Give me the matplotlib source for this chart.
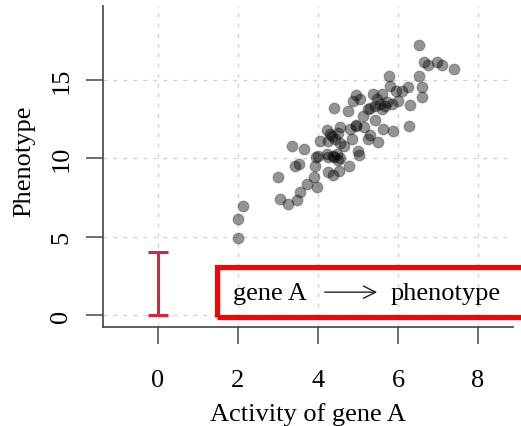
import numpy as np
import matplotlib
matplotlib.use("Agg")
import matplotlib.pyplot as plt

plt.rcParams['font.family'] = ['Liberation Serif', 'DejaVu Serif']

# activity of gene A vs phenotype
activity = [6.53, 6.66, 6.76, 6.98, 7.09, 7.40, 5.78, 6.53, 6.61, 6.60,
            6.30, 6.28, 6.25, 6.09, 5.95, 5.80, 5.60, 5.37, 5.55, 5.68,
            5.43, 5.30, 5.84, 6.00, 4.95, 5.05, 4.88, 4.40, 4.76, 5.12,
            5.43, 4.94, 4.55, 5.16, 5.63, 5.87, 5.30, 5.26, 5.51, 4.22,
            4.34, 4.05, 4.26, 4.43, 4.66, 4.84, 4.55, 5.01, 5.03, 3.34,
            3.66, 3.94, 4.22, 4.38, 4.48, 4.26, 4.55, 3.43, 3.53, 3.93,
            4.24, 4.38, 4.53, 4.78, 2.99, 3.91, 3.72, 3.97, 3.55, 3.05,
            3.24, 3.47, 2.12, 2.01, 2.01, 5.47, 5.72, 5.60, 5.25, 4.96,
            4.80, 4.30, 4.50, 3.99, 4.40, 4.50]
phenotype = [17.2, 16.15, 15.9, 16.15, 15.9, 15.65, 15.2, 15.25, 14.5, 13.9,
             13.4, 12.05, 14.5, 14.3, 14.3, 14.6, 14.1, 14.1, 13.45, 13.35,
             13.35, 13.2, 13.45, 13.65, 14.0, 13.75, 13.65, 13.2, 13.0, 12.7,
             12.4, 12.05, 12.0, 11.95, 11.85, 11.75, 11.45, 11.2, 11.05, 11.8,
             11.4, 11.1, 11.1, 11.2, 10.75, 11.2, 10.95, 10.45, 10.2, 10.8,
             10.6, 10.05, 10.25, 10.15, 10.25, 10.1, 10.0, 9.5, 9.65, 9.5,
             9.1, 8.9, 9.2, 9.5, 8.8, 8.8, 8.35, 8.15, 7.85, 7.4,
             7.05, 7.35, 6.95, 6.15, 4.9, 13.75, 13.55, 13.15, 13.15, 12.1,
             11.85, 11.55, 11.6, 10.15, 10.05, 9.9]

bar_x = 0
bar_lo, bar_hi = 0, 4

xticks = [0, 2, 4, 6, 8]
yticks = [0, 5, 10, 15]

fig = plt.figure(figsize=(5.21, 4.27), dpi=100)
ax = fig.add_axes([103/521, 1 - 328/427, 410/521, 321/427])

ax.set_xlim(-1.375, 8.875)
ax.set_ylim(-0.76, 19.69)

for x in xticks:
    ax.axvline(x, color='#cfcfcf', lw=0.9, ls=(0, (3, 5)), zorder=0)
for y in yticks:
    ax.axhline(y, color='#cfcfcf', lw=0.9, ls=(0, (3, 5)), zorder=0)

ax.scatter(activity, phenotype, s=62, facecolor=(0, 0, 0, 0.42),
           edgecolor=(0, 0, 0, 0.25), linewidth=0.8, zorder=3)

# bar from 0 to 4 at x = 0
ax.errorbar([bar_x], [(bar_lo + bar_hi) / 2], yerr=[(bar_hi - bar_lo) / 2],
            fmt='none', ecolor='#d8243c', elinewidth=2.2, capsize=7,
            capthick=2.2, zorder=4)

# boxed label
box = plt.Rectangle((1.475, -0.13), 8.0, 3.19, fill=False, edgecolor='#ff0000',
                    linewidth=3.8, clip_on=False, zorder=5)
ax.add_patch(box)
ax.text(1.875, 1.4, "gene A", fontsize=19, va='center', ha='left', zorder=6)
ax.annotate("", xy=(5.55, 1.46), xytext=(4.1, 1.46),
            arrowprops=dict(arrowstyle='->', color='#222222', lw=1.0,
                            mutation_scale=22), zorder=6)
ax.text(5.82, 1.4, "phenotype", fontsize=19, va='center', ha='left', zorder=6)

ax.set_xticks(xticks)
ax.set_yticks(yticks)
ax.set_yticklabels([str(v) for v in yticks], rotation=90, va='center')
ax.tick_params(axis='both', direction='out', length=12, width=1.2,
               color='#555555', labelsize=19)
ax.tick_params(axis='x', pad=18)
ax.tick_params(axis='y', pad=10)

for side in ['top', 'right']:
    ax.spines[side].set_visible(False)
for side in ['left', 'bottom']:
    ax.spines[side].set_color('#444444')
    ax.spines[side].set_linewidth(1.2)

ax.set_xlabel("Activity of gene A", fontsize=19, labelpad=8)
ax.set_ylabel("Phenotype", fontsize=19)
ax.yaxis.set_label_coords(-0.165, 0.52)

fig.savefig("out.png", dpi=100)
